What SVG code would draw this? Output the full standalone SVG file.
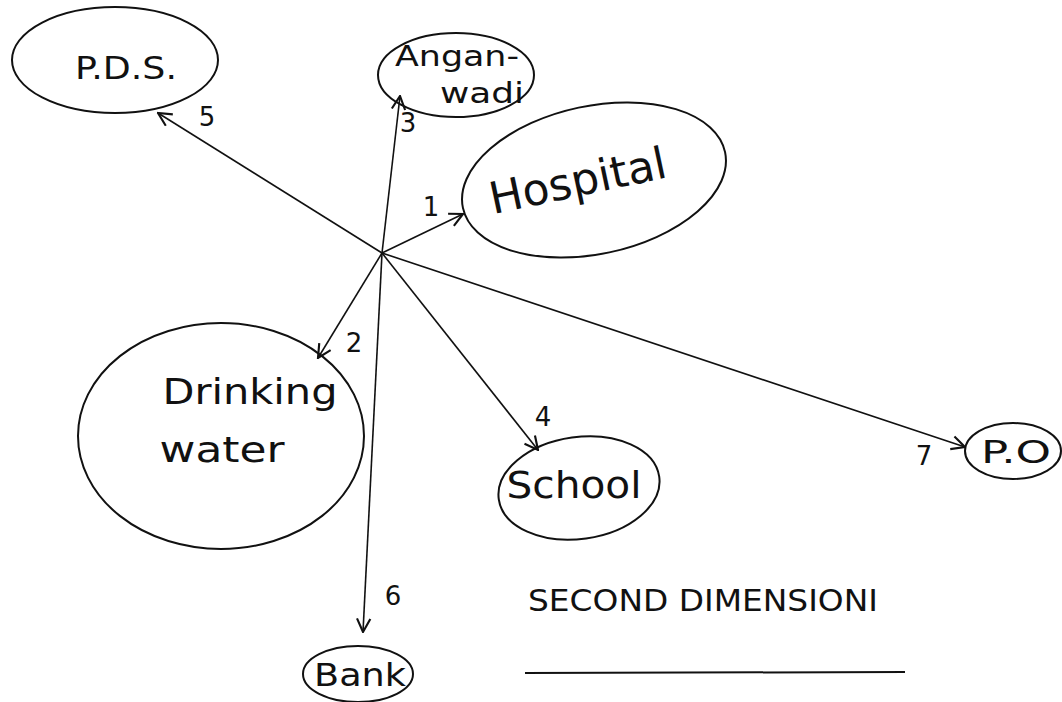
<svg xmlns="http://www.w3.org/2000/svg" width="1062" height="702" viewBox="0 0 1062 702">
<style>
.node{fill:none;stroke:#111;stroke-width:2}
.lbl{font-family:"DejaVu Sans","Liberation Sans",sans-serif;fill:#111;text-anchor:middle}
.edge{stroke:#111;stroke-width:1.6;fill:none}
.num{font-family:"DejaVu Sans","Liberation Sans",sans-serif;fill:#111;font-size:26px;text-anchor:middle}
</style>
<defs>
<marker id="ah" viewBox="0 0 12 12" refX="11" refY="6" markerWidth="16" markerHeight="16" markerUnits="userSpaceOnUse" orient="auto">
<path d="M1,1 L11,6 L1,11" fill="none" stroke="#111" stroke-width="1.6"/>
</marker>
</defs>
<rect width="1062" height="702" fill="#fff"/>
<g id="connectors">
<line class="edge" x1="382" y1="253" x2="463" y2="214" marker-end="url(#ah)"/>
<line class="edge" x1="382" y1="253" x2="318" y2="358" marker-end="url(#ah)"/>
<line class="edge" x1="382" y1="253" x2="400" y2="96" marker-end="url(#ah)"/>
<line class="edge" x1="382" y1="253" x2="538" y2="450" marker-end="url(#ah)"/>
<line class="edge" x1="382" y1="253" x2="158" y2="113" marker-end="url(#ah)"/>
<line class="edge" x1="382" y1="253" x2="363" y2="632" marker-end="url(#ah)"/>
<line class="edge" x1="382" y1="253" x2="965" y2="447" marker-end="url(#ah)" stroke-width="2.2"/>
<text class="num" x="431" y="216">1</text>
<text class="num" x="354" y="352">2</text>
<text class="num" x="408" y="132">3</text>
<text class="num" x="543" y="426">4</text>
<text class="num" x="207" y="126">5</text>
<text class="num" x="393" y="605">6</text>
<text class="num" x="924" y="465">7</text>
</g>
<g id="pds">
<ellipse class="node" cx="115" cy="60" rx="103" ry="53"/>
<text class="lbl" x="126" y="79" font-size="32" textLength="102" lengthAdjust="spacingAndGlyphs">P.D.S.</text>
</g>
<g id="anganwadi">
<ellipse class="node" cx="456" cy="75" rx="78" ry="42"/>
<text class="lbl" x="457" y="66" font-size="28" textLength="124" lengthAdjust="spacingAndGlyphs">Angan-</text>
<text class="lbl" x="482" y="103" font-size="28" textLength="84" lengthAdjust="spacingAndGlyphs">wadi</text>
</g>
<g id="hospital">
<ellipse class="node" cx="594" cy="180" rx="134" ry="74" transform="rotate(-12 594 180)"/>
<text class="lbl" x="578" y="196" font-size="44" transform="rotate(-12 578 182)">Hospital</text>
</g>
<g id="drinking-water">
<ellipse class="node" cx="221" cy="436" rx="143" ry="113"/>
<text class="lbl" x="250" y="404" font-size="36" textLength="175" lengthAdjust="spacingAndGlyphs">Drinking</text>
<text class="lbl" x="222" y="462" font-size="36" textLength="125" lengthAdjust="spacingAndGlyphs">water</text>
</g>
<g id="school">
<ellipse class="node" cx="579" cy="488" rx="81" ry="51" transform="rotate(-8 579 488)"/>
<text class="lbl" x="574" y="498" font-size="38" textLength="135" lengthAdjust="spacingAndGlyphs">School</text>
</g>
<g id="po">
<ellipse class="node" cx="1013" cy="451" rx="48" ry="28"/>
<text class="lbl" x="1016" y="463" font-size="32" textLength="70" lengthAdjust="spacingAndGlyphs">P.O</text>
</g>
<g id="bank">
<ellipse class="node" cx="358" cy="674" rx="55" ry="28"/>
<text class="lbl" x="360" y="686" font-size="32" textLength="92" lengthAdjust="spacingAndGlyphs">Bank</text>
</g>
<g id="title">
<text x="528" y="611" font-family="DejaVu Sans,Liberation Sans,sans-serif" font-size="30" fill="#111" textLength="350" lengthAdjust="spacingAndGlyphs">SECOND  DIMENSIONI</text>
<line x1="525" y1="673" x2="905" y2="672" stroke="#111" stroke-width="2"/>
</g>
</svg>
